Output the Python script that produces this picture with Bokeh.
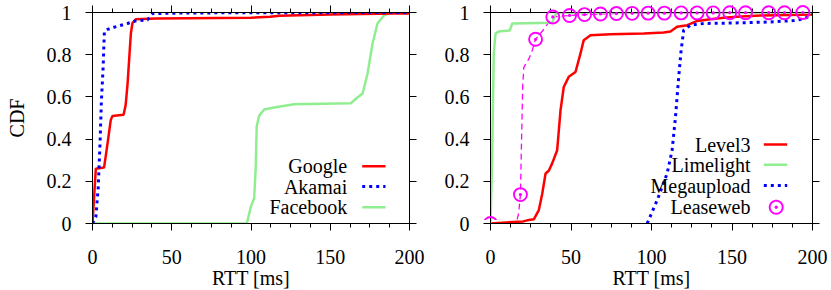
import math
from bokeh.plotting import figure
from bokeh.models import Range1d, FixedTicker, LinearAxis, Label, Arrow, PolyAnnotation
from bokeh.layouts import row
from bokeh.embed import file_html
from bokeh.resources import INLINE

# ---------------- data ----------------
X_TICKS = [0, 50, 100, 150, 200]
X_MINOR = [12.5, 25, 37.5, 62.5, 75, 87.5, 112.5, 125, 137.5, 162.5, 175, 187.5]
Y_TICKS = [0, 0.2, 0.4, 0.6, 0.8, 1]
Y_LABELS = ["0", "0.2", "0.4", "0.6", "0.8", "1"]

google_x = [0, 2.1, 7.3, 9.5, 11.5, 12.6, 19.6, 20.9, 22.1, 24.2, 25.2, 27.3, 40, 100, 112, 118, 150, 190, 200]
google_y = [0, 0.26, 0.265, 0.38, 0.49, 0.51, 0.515, 0.56, 0.66, 0.90, 0.95, 0.968, 0.972, 0.975, 0.98, 0.985, 0.99, 0.995, 0.995]

akamai_x = [0, 2.1, 3.6, 4.8, 5.6, 6.7, 7.5, 9.5, 13.6, 22.1, 27.3, 34.7, 37.9, 60, 200]
akamai_y = [0, 0.03, 0.17, 0.39, 0.58, 0.74, 0.91, 0.92, 0.93, 0.948, 0.96, 0.965, 0.995, 0.998, 1.0]

facebook_x = [0, 97.4, 99.9, 102, 103, 103.6, 105.1, 108.3, 114.6, 127.2, 163, 166, 170.4, 173.5, 176.7, 179.8, 184, 188, 200]
facebook_y = [0, 0, 0.08, 0.12, 0.27, 0.46, 0.51, 0.54, 0.55, 0.565, 0.57, 0.59, 0.616, 0.71, 0.853, 0.948, 0.987, 1.0, 1.0]

level3_x = [0, 20.3, 22.8, 26.9, 30, 32.1, 34.2, 36.2, 38.3, 41.4, 43.5, 45.5, 48.6, 52.8, 55.9, 57.9, 62.1, 74.5,
            95.2, 107.6, 111.8, 115.9, 122.2, 128.4, 136.6, 144.9, 153, 167.7, 200]
level3_y = [0, 0.01, 0.015, 0.02, 0.063, 0.14, 0.237, 0.25, 0.285, 0.347, 0.537, 0.647, 0.695, 0.718, 0.806, 0.869,
            0.892, 0.897, 0.9, 0.905, 0.91, 0.932, 0.94, 0.96, 0.968, 0.975, 0.98, 0.986, 0.99]

limelight_x = [0, 1.0, 2.0, 3.1, 5, 12, 13.5, 38.3, 40.4, 42, 200]
limelight_y = [0, 0.3, 0.8, 0.9, 0.91, 0.915, 0.948, 0.952, 0.99, 1.0, 1.0]

mega_x = [97.3, 103.5, 109.7, 112.8, 114.9, 116.9, 118.4, 120, 124.2, 132.5, 149, 173.9, 188.4, 194.6, 198.7, 200]
mega_y = [0, 0.11, 0.237, 0.347, 0.505, 0.695, 0.821, 0.916, 0.94, 0.948, 0.95, 0.955, 0.962, 0.97, 0.985, 0.99]

lease_x = [0, 16, 17.5, 18.6, 19.3, 20, 20.7, 23.8, 25.5, 28, 32, 38.7, 49.1, 58.4, 68.3, 78.2, 88, 97.9, 108,
           118.4, 128.3, 138.3, 148.6, 158.4, 172.8, 182.6, 194, 200]
lease_y = [0, 0, 0.05, 0.137, 0.4, 0.65, 0.74, 0.78, 0.81, 0.873, 0.91, 0.979, 0.986, 0.99, 0.993, 0.995, 0.996,
           0.997, 0.997, 0.998, 0.998, 0.998, 0.999, 0.999, 0.999, 0.999, 1.0, 1.0]
lease_pt_x = [0, 18.6, 28, 38.7, 49.1, 58.4, 68.3, 78.2, 88, 97.9, 108, 118.4, 128.3, 138.3, 148.6, 158.4, 172.8, 182.6, 194]
lease_pt_y = [0, 0.137, 0.873, 0.979, 0.986, 0.99, 0.993, 0.995, 0.996, 0.997, 0.997, 0.998, 0.998, 0.998, 0.999,
              0.999, 0.999, 0.999, 1.0]

RED, BLUE, GREEN, MAG = "#ff0000", "#0000ff", "#90ee90", "#ff00ff"
FONT = "Liberation Serif"
FS = "20px"
FRAME_H = 211
TOP = 12


def style_axis(ax, ticks, labels=True):
    ax.axis_line_color = "black"
    ax.axis_line_width = 1
    ax.major_tick_line_color = "black"
    ax.minor_tick_line_color = "black"
    ax.major_tick_out = 7
    ax.major_tick_in = 0
    ax.minor_tick_out = 4
    ax.minor_tick_in = 0
    ax.major_label_text_font = FONT
    ax.major_label_text_color = "black"
    ax.axis_label_text_font = FONT
    ax.axis_label_text_font_size = FS
    ax.axis_label_text_font_style = "normal"
    ax.axis_label_text_color = "black"
    if labels:
        ax.major_label_text_font_size = FS
    else:
        ax.major_label_text_font_size = "1px"
        ax.major_label_overrides = {t: "" for t in ticks}
        ax.major_label_standoff = 0
        ax.axis_label = None


def make_fig(frame_w, mbl, mbr, ylabel):
    p = figure(x_range=Range1d(0, 200), y_range=Range1d(0, 1), frame_width=frame_w, frame_height=FRAME_H,
               min_border_left=mbl, min_border_right=mbr, min_border_top=TOP, min_border_bottom=0,
               output_backend="svg", toolbar_location=None, x_axis_label="RTT [ms]", y_axis_label=ylabel)
    p.grid.visible = False
    p.outline_line_color = "black"
    p.outline_line_width = 1
    xt = FixedTicker(ticks=X_TICKS, minor_ticks=X_MINOR)
    yt = FixedTicker(ticks=Y_TICKS, minor_ticks=[])
    p.xaxis.ticker = xt
    p.yaxis.ticker = yt
    for ax in p.xaxis:
        style_axis(ax, X_TICKS)
        ax.major_label_standoff = 19
        ax.axis_label_standoff = 0
    for ax in p.yaxis:
        style_axis(ax, Y_TICKS)
        ax.major_label_overrides = {v: l for v, l in zip(Y_TICKS, Y_LABELS)}
        ax.major_label_standoff = 14
        ax.axis_label_standoff = 16
    top = LinearAxis(ticker=xt)
    style_axis(top, X_TICKS, labels=False)
    p.add_layout(top, "above")
    right = LinearAxis(ticker=yt)
    style_axis(right, Y_TICKS, labels=False)
    p.add_layout(right, "right")
    return p


def ring(p, cx, cy, r, color, width, filled=False, n=36):
    xs = [cx + r * math.cos(2 * math.pi * k / n) for k in range(n)]
    ys = [cy + r * math.sin(2 * math.pi * k / n) for k in range(n)]
    p.add_layout(PolyAnnotation(xs=xs, ys=ys, xs_units="screen", ys_units="screen",
                                fill_color=color, fill_alpha=1 if filled else 0,
                                line_color=color, line_alpha=1, line_width=width))


def legend_entry(p, text, x_text, y, sample_x0, sample_x1, color, width, dash):
    p.add_layout(Label(x=x_text, y=y, x_units="screen", y_units="screen", text=text, text_align="right",
                       text_baseline="middle", text_font=FONT, text_font_size=FS, text_color="black"))
    if sample_x0 is not None:
        p.add_layout(Arrow(x_start=sample_x0, y_start=y, x_end=sample_x1, y_end=y, start_units="screen",
                           end_units="screen", end=None, line_color=color, line_width=width, line_dash=dash))


# ---------------- left panel ----------------
FW1, MBL1, MBR1 = 317, 92, 22
p1 = make_fig(FW1, MBL1, MBR1, "CDF")
p1.line(facebook_x, facebook_y, line_color=GREEN, line_width=2.5)
p1.line(google_x, google_y, line_color=RED, line_width=2.5)
p1.line(akamai_x, akamai_y, line_color=BLUE, line_width=3, line_dash="3 4")

legend_entry(p1, "Google", 254.7, 57.3, 269.7, 293, RED, 2.5, "solid")
legend_entry(p1, "Akamai", 254.7, 37, 269.7, 293, BLUE, 3, "3 4")
legend_entry(p1, "Facebook", 254.7, 16.3, 269.7, 293, GREEN, 2.5, "solid")

# ---------------- right panel ----------------
FW2, MBL2, MBR2 = 322, 59, 18
p2 = make_fig(FW2, MBL2, MBR2, None)
p2.line(lease_x, lease_y, line_color=MAG, line_width=1.3, line_dash="6 4")
p2.line(level3_x, level3_y, line_color=RED, line_width=2.5)
p2.line(limelight_x, limelight_y, line_color=GREEN, line_width=2.5)
p2.line(mega_x, mega_y, line_color=BLUE, line_width=3, line_dash="3 4")

legend_entry(p2, "Level3", 260, 79, 273.3, 296.7, RED, 2.5, "solid")
legend_entry(p2, "Limelight", 260, 58.7, 273.3, 296.7, GREEN, 2.5, "solid")
legend_entry(p2, "Megaupload", 260, 38, 273.3, 296.7, BLUE, 3, "3 4")
legend_entry(p2, "Leaseweb", 260, 16.3, None, None, MAG, 1.8, "solid")
ring(p2, 285.7, 16.3, 6.5, MAG, 1.9)
ring(p2, 285.7, 16.3, 1.3, MAG, 1, filled=True, n=10)

# ---- transparent overlay with the same scale, so that Leaseweb points are not clipped at the frame ----
# (plots in a row get their top borders aligned, so the overlay frame starts TOP px below its own top)
M = 9
dx = M * 200 / FW2
dy = M / FRAME_H
p3 = figure(x_range=Range1d(0 - dx, 200 + dx), y_range=Range1d(0 - dy, 1 + dy),
            frame_width=FW2 + 2 * M, frame_height=FRAME_H + 2 * M, min_border=0,
            x_axis_type=None, y_axis_type=None, output_backend="svg", toolbar_location=None,
            background_fill_alpha=0, border_fill_alpha=0, outline_line_color=None)
p3.title_location = None
p3.scatter(lease_pt_x, lease_pt_y, marker="circle_dot", size=13, fill_alpha=0, line_color=MAG, line_width=1.9)
W1 = MBL1 + FW1 + MBR1
W2 = MBL2 + FW2 + MBR2
p3.margin = (-M, 0, 0, -(W1 + W2 - (W1 + MBL2 - M)))

layout = row(p1, p2, p3)
open("out.html", "w").write(file_html(layout, INLINE))
